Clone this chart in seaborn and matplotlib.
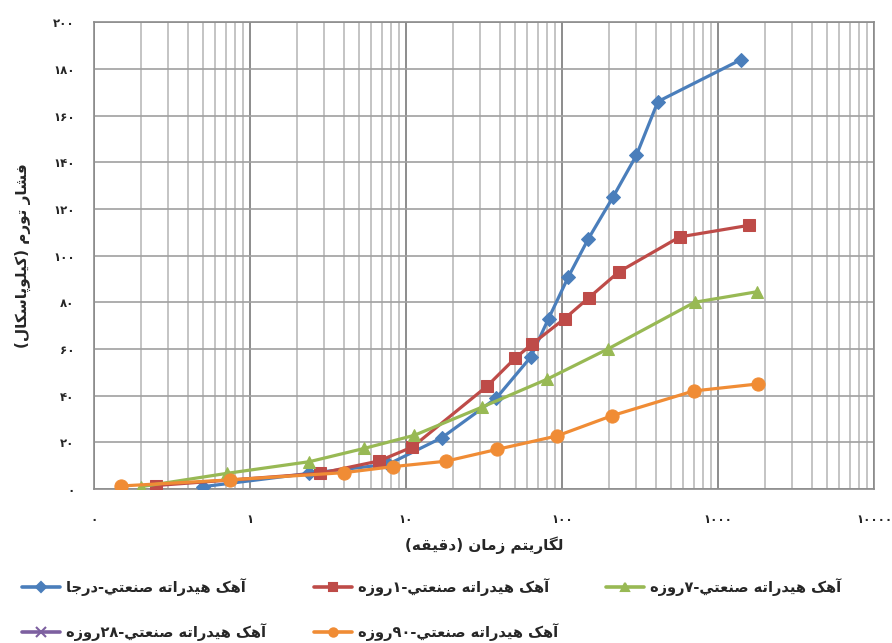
import re
import matplotlib
matplotlib.use("Agg")
import matplotlib.pyplot as plt
import matplotlib.ticker as mticker
import seaborn as sns

# ---- data (time in minutes, pressure in kPa) ----
t_insitu = [0.5, 2.4, 7.7, 17, 38, 63, 82, 110, 147, 212, 300, 412, 1410]
p_insitu = [1, 6.7, 10.6, 22, 39, 56.5, 73, 91, 107, 125, 143, 166, 184]

t_1day = [0.25, 2.8, 6.7, 11, 33, 50, 64, 104, 149, 231, 568, 1590]
p_1day = [1.5, 6.7, 12, 18, 44, 56, 62, 73, 82, 93, 108, 113]

t_7day = [0.2, 0.71, 2.4, 5.4, 11.3, 30.5, 80, 197, 708, 1775]
p_7day = [1, 6.7, 11.7, 17.4, 23, 35, 47, 60, 80, 84.5]

t_28day = []
p_28day = []

t_90day = [0.15, 0.74, 4, 8.3, 18, 38.5, 92.5, 209, 698, 1800]
p_90day = [1.3, 3.9, 7, 9.6, 11.9, 17, 22.7, 31.4, 42, 45]

labels = ["آهک هیدراته صنعتي-درجا", "آهک هیدراته صنعتي-۱روزه",
          "آهک هیدراته صنعتي-۷روزه", "آهک هیدراته صنعتي-۲۸روزه",
          "آهک هیدراته صنعتي-۹۰روزه"]
x_title = "لگاریتم زمان (دقیقه)"
y_title = "فشار تورم (کیلوپاسکال)"
x_ticks = [0.1, 1, 10, 100, 1000, 10000]
x_ticklabels = ["۰", "۱", "۱۰", "۱۰۰", "۱۰۰۰", "۱۰۰۰۰"]
y_ticks = [0, 20, 40, 60, 80, 100, 120, 140, 160, 180, 200]
y_ticklabels = ["۰", "۲۰", "۴۰", "۶۰", "۸۰", "۱۰۰", "۱۲۰", "۱۴۰", "۱۶۰", "۱۸۰", "۲۰۰"]

# ---- minimal Persian shaping (matplotlib does no shaping / bidi) ----
FORMS = {
    'ا': ('\uFE8D', '\uFE8E', None, None), 'آ': ('\uFE81', '\uFE82', None, None),
    'د': ('\uFEA9', '\uFEAA', None, None), 'ر': ('\uFEAD', '\uFEAE', None, None),
    'ز': ('\uFEAF', '\uFEB0', None, None), 'و': ('\uFEED', '\uFEEE', None, None),
    'پ': ('\uFB56', '\uFB57', '\uFB58', '\uFB59'), 'ت': ('\uFE95', '\uFE96', '\uFE97', '\uFE98'),
    'ج': ('\uFE9D', '\uFE9E', '\uFE9F', '\uFEA0'), 'س': ('\uFEB1', '\uFEB2', '\uFEB3', '\uFEB4'),
    'ش': ('\uFEB5', '\uFEB6', '\uFEB7', '\uFEB8'), 'ص': ('\uFEB9', '\uFEBA', '\uFEBB', '\uFEBC'),
    'ع': ('\uFEC9', '\uFECA', '\uFECB', '\uFECC'), 'ف': ('\uFED1', '\uFED2', '\uFED3', '\uFED4'),
    'ق': ('\uFED5', '\uFED6', '\uFED7', '\uFED8'), 'ک': ('\uFB8E', '\uFB8F', '\uFB90', '\uFB91'),
    'گ': ('\uFB92', '\uFB93', '\uFB94', '\uFB95'), 'ل': ('\uFEDD', '\uFEDE', '\uFEDF', '\uFEE0'),
    'م': ('\uFEE1', '\uFEE2', '\uFEE3', '\uFEE4'), 'ن': ('\uFEE5', '\uFEE6', '\uFEE7', '\uFEE8'),
    'ه': ('\uFEE9', '\uFEEA', '\uFEEB', '\uFEEC'), 'ی': ('\uFBFC', '\uFBFD', '\uFBFE', '\uFBFF'),
    'ي': ('\uFEF1', '\uFEF2', '\uFEF3', '\uFEF4'),
}


def fa(text):
    out = []
    for i, ch in enumerate(text):
        if ch not in FORMS:
            out.append(ch)
            continue
        iso, fin, ini, med = FORMS[ch]
        prev = text[i - 1] if i > 0 else ''
        nxt = text[i + 1] if i + 1 < len(text) else ''
        jp = prev in FORMS and FORMS[prev][2] is not None
        jn = ini is not None and nxt in FORMS
        out.append(med if jp and jn else fin if jp else ini if jn else iso)
    s = ''.join(out)[::-1]
    s = re.sub('[0-9\u06F0-\u06F9]+', lambda m: m.group(0)[::-1], s)
    return s.translate(str.maketrans('()', ')('))


sns.set_theme(style="white")
plt.rcParams['font.family'] = ['DejaVu Sans']

fig = plt.figure(figsize=(8.92, 6.43), dpi=100)
ax = fig.add_axes([0.1054, 0.2395, 0.8744, 0.726])

# color, marker, marker size on the chart, marker size in the legend
series = [
    (t_insitu, p_insitu, "#4A7EBB", "D", 7.5, 4.8),
    (t_1day, p_1day, "#BE4B48", "s", 8.5, 5.4),
    (t_7day, p_7day, "#98B954", "^", 9, 5.8),
    (t_28day, p_28day, "#7D60A0", "x", 8, 7),
    (t_90day, p_90day, "#F08C35", "o", 9.5, 6),
]
handles = []
for (tx, py, col, mk, ms, lms), lab in zip(series, labels):
    if len(tx):
        sns.lineplot(x=tx, y=py, ax=ax, color=col, marker=mk, markersize=ms,
                     markeredgecolor=col, linewidth=2.3, sort=False, zorder=3,
                     legend=False)
    h, = ax.plot([], [], color=col, marker=mk, markersize=lms,
                 markeredgecolor=col, markeredgewidth=1.5, linewidth=2.6,
                 label=fa(lab))
    handles.append(h)

ax.set_xscale("log")
ax.set_xlim(0.1, 10000)
ax.set_ylim(0, 200)
ax.set_xticks(x_ticks)
ax.set_xticklabels(x_ticklabels, fontsize=8.5, fontweight="bold")
ax.xaxis.set_minor_locator(mticker.LogLocator(base=10, subs=range(2, 10)))
ax.xaxis.set_minor_formatter(mticker.NullFormatter())
ax.set_yticks(y_ticks)
ax.set_yticklabels(y_ticklabels, fontsize=8.5, fontweight="bold")
ax.tick_params(axis="both", which="both", length=0)
ax.tick_params(axis="x", pad=17)
ax.tick_params(axis="y", pad=14)

ax.grid(True, which="major", axis="x", color="#8c8c8c", linewidth=1.4)
ax.grid(True, which="minor", axis="x", color="#b4b4b4", linewidth=1.1)
ax.grid(True, which="major", axis="y", color="#a0a0a0", linewidth=1.2)
for sp in ax.spines.values():
    sp.set_color("#8c8c8c")
    sp.set_linewidth(1.2)

ax.set_xlabel(fa(x_title), fontsize=11, fontweight="bold", labelpad=8)
ax.set_ylabel(fa(y_title), fontsize=11, fontweight="bold", labelpad=16)
if ax.get_legend() is not None:
    ax.get_legend().remove()

# legend: 3 columns, rows [insitu, 1d, 7d] / [28d, 90d]
order = [0, 3, 1, 4, 2]
fig.legend([handles[i] for i in order], [handles[i].get_label() for i in order],
           loc="upper left", bbox_to_anchor=(0.01, 0.122), ncol=3, frameon=False,
           handlelength=2.6, handletextpad=0.4, columnspacing=3.3,
           labelspacing=1.9, prop={"size": 10.5, "weight": "bold"})

fig.savefig("out.png", dpi=100)
